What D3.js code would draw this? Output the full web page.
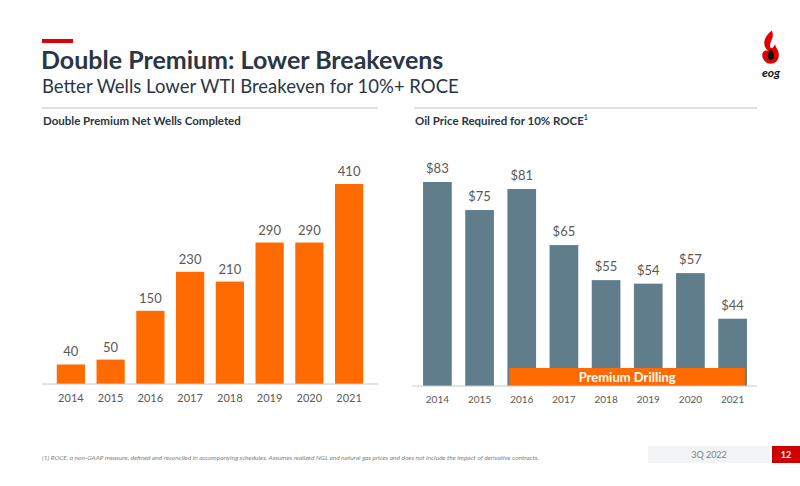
<!DOCTYPE html>
<html>
<meta charset="utf-8">
<script src="https://d3js.org/d3.v7.min.js"></script>
<style>
  body { margin: 0; background: #fff; }
  text { font-family: Lato, "Open Sans", sans-serif; }
</style>
<body>
<div id="chart"></div>
<script>
  var years = ["2014", "2015", "2016", "2017", "2018", "2019", "2020", "2021"];
  var wells = [40, 50, 150, 230, 210, 290, 290, 410];
  var oilPrice = [83, 75, 81, 65, 55, 54, 57, 44];
  var premiumYears = ["2016", "2021"];

  var orange = "#ff6b00", slate = "#607d8b", dark = "#2b3645", grey = "#7f7f7f";

  var svg = d3.select("#chart").append("svg")
    .attr("width", 800).attr("height", 486);

  // header
  svg.append("rect").attr("x", 42).attr("y", 39).attr("width", 31).attr("height", 4).attr("fill", "#e00000");
  svg.append("text").attr("x", 41).attr("y", 69).attr("font-size", 25).attr("font-weight", "bold")
    .attr("fill", dark).text("Double Premium: Lower Breakevens");
  svg.append("text").attr("x", 42).attr("y", 93).attr("font-size", 18.5)
    .attr("fill", dark).text("Better Wells Lower WTI Breakeven for 10%+ ROCE");

  svg.append("line").attr("x1", 42).attr("x2", 378).attr("y1", 108).attr("y2", 108).attr("stroke", "#b8c4cc");
  svg.append("line").attr("x1", 414).attr("x2", 757).attr("y1", 108).attr("y2", 108).attr("stroke", "#b8c4cc");
  svg.append("text").attr("x", 43).attr("y", 125).attr("font-size", 11.5).attr("font-weight", "bold")
    .attr("fill", dark).text("Double Premium Net Wells Completed");
  var t2 = svg.append("text").attr("x", 415).attr("y", 125).attr("font-size", 11.5).attr("font-weight", "bold")
    .attr("fill", dark).text("Oil Price Required for 10% ROCE");
  t2.append("tspan").attr("font-size", 7).attr("dy", -5).text("1");

  // logo
  var logo = svg.append("g").attr("transform", "translate(770,44) scale(0.85)");
  logo.append("path").attr("d", "M2,-16 C-10,-6 -8,4 -2,8 C-10,6 -12,16 -4,22 C0,24 8,24 10,16 C12,8 6,4 6,0 C4,6 0,6 0,2 C0,-4 6,-8 2,-16Z")
    .attr("fill", "#e00000");
  logo.append("path").attr("d", "M1,6 C-4,12 -4,18 1,19 C6,18 6,12 1,6Z").attr("fill", "#111");
  svg.append("text").attr("x", 771).attr("y", 77).attr("text-anchor", "middle").attr("font-size", 12)
    .attr("font-weight", "bold").attr("font-style", "italic").attr("fill", "#111").text("eog");

  // left chart
  var x1 = d3.scaleBand().domain(years).range([52, 368]).paddingInner(0.29).paddingOuter(0.12);
  var y1 = d3.scaleLinear().domain([0, 410]).range([384, 184]);
  var g1 = svg.append("g");
  g1.selectAll("rect").data(years).enter().append("rect")
    .attr("x", function(d) { return x1(d); })
    .attr("y", function(d, i) { return y1(wells[i]); })
    .attr("width", x1.bandwidth())
    .attr("height", function(d, i) { return y1(0) - y1(wells[i]); })
    .attr("fill", orange);
  g1.selectAll(".lbl").data(years).enter().append("text")
    .attr("x", function(d) { return x1(d) + x1.bandwidth() / 2; })
    .attr("y", function(d, i) { return y1(wells[i]) - 8; })
    .attr("text-anchor", "middle").attr("font-size", 13).attr("fill", "#595959")
    .text(function(d, i) { return wells[i]; });
  var ax1 = svg.append("g").attr("transform", "translate(0,384)")
    .call(d3.axisBottom(x1).tickSize(0).tickPadding(10));
  ax1.select(".domain").attr("stroke", "#c8c8c8").attr("d", "M42,0H378");
  ax1.selectAll("text").attr("font-size", 11).attr("fill", "#595959").attr("font-family", "Lato");

  // right chart
  var x2 = d3.scaleBand().domain(years).range([418, 752]).paddingInner(0.32).paddingOuter(0.12);
  var y2 = d3.scaleLinear().domain([24.8, 83]).range([386, 182]);
  var g2 = svg.append("g");
  g2.selectAll("rect").data(years).enter().append("rect")
    .attr("x", function(d) { return x2(d); })
    .attr("y", function(d, i) { return y2(oilPrice[i]); })
    .attr("width", x2.bandwidth())
    .attr("height", function(d, i) { return y2(24.8) - y2(oilPrice[i]); })
    .attr("fill", slate);
  g2.selectAll(".lbl").data(years).enter().append("text")
    .attr("x", function(d) { return x2(d) + x2.bandwidth() / 2; })
    .attr("y", function(d, i) { return y2(oilPrice[i]) - 9; })
    .attr("text-anchor", "middle").attr("font-size", 13).attr("fill", "#595959")
    .text(function(d, i) { return "$" + oilPrice[i]; });

  var px0 = x2(premiumYears[0]) + 2, px1 = x2(premiumYears[1]) + x2.bandwidth() - 2;
  svg.append("rect").attr("x", px0).attr("y", 368).attr("width", px1 - px0).attr("height", 18).attr("fill", orange);
  svg.append("text").attr("x", (px0 + px1) / 2).attr("y", 382).attr("text-anchor", "middle")
    .attr("font-size", 13).attr("font-weight", "bold").attr("fill", "#fff").text("Premium Drilling");

  var ax2 = svg.append("g").attr("transform", "translate(0,386)")
    .call(d3.axisBottom(x2).tickSize(0).tickPadding(10));
  ax2.select(".domain").attr("stroke", "#c8c8c8").attr("d", "M412,0H757");
  ax2.selectAll("text").attr("font-size", 10).attr("fill", "#595959").attr("font-family", "Lato");

  // footer
  svg.append("text").attr("x", 42).attr("y", 460).attr("font-size", 6.5).attr("font-style", "italic")
    .attr("fill", grey).text("(1)     ROCE, a non-GAAP measure, defined and reconciled in accompanying schedules.  Assumes realized NGL and natural gas prices and does not include the impact of derivative contracts.");
  svg.append("rect").attr("x", 648).attr("y", 446).attr("width", 122).attr("height", 17).attr("fill", "#f1f3f5");
  svg.append("text").attr("x", 709).attr("y", 458).attr("text-anchor", "middle").attr("font-size", 9)
    .attr("fill", grey).text("3Q 2022");
  svg.append("rect").attr("x", 772).attr("y", 446).attr("width", 28).attr("height", 17).attr("fill", "#d00000");
  svg.append("text").attr("x", 786).attr("y", 458).attr("text-anchor", "middle").attr("font-size", 9)
    .attr("font-weight", "bold").attr("fill", "#fff").text("12");
</script>
</body>
</html>
